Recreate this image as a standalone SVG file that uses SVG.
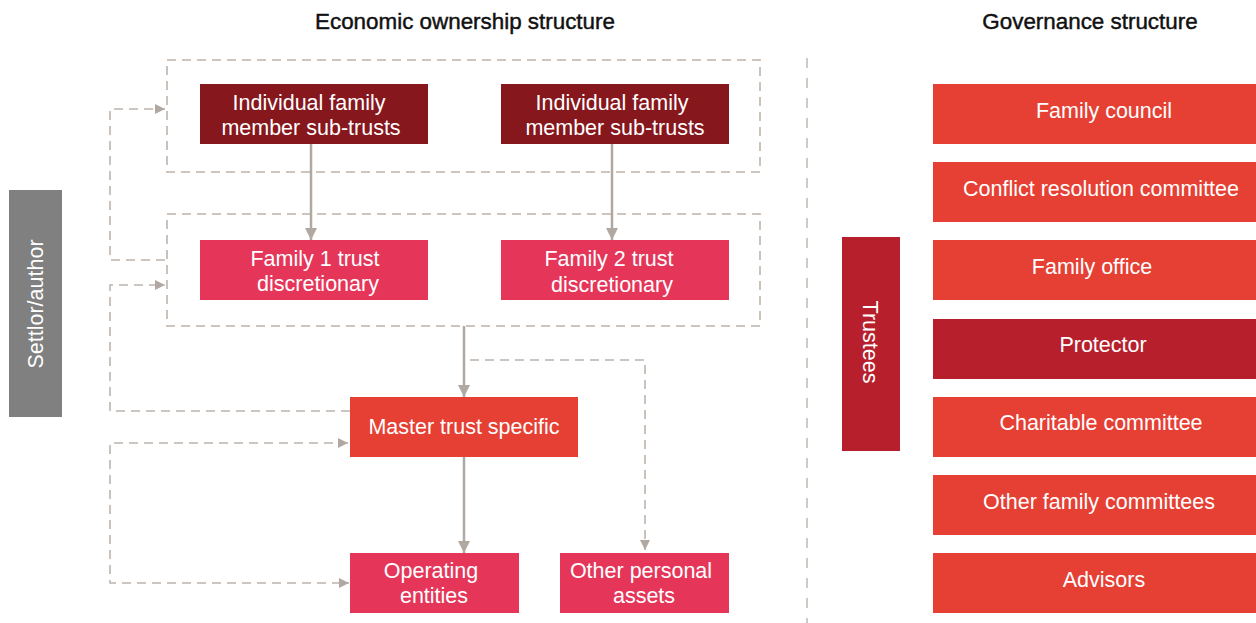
<svg xmlns="http://www.w3.org/2000/svg" width="1256" height="623" viewBox="0 0 1256 623">
<style>
.t{font-family:"Liberation Sans",Arial,sans-serif;font-size:21.5px;fill:#fff;text-anchor:middle}
.h{font-family:"Liberation Sans",Arial,sans-serif;font-size:22.4px;fill:#111;text-anchor:middle;stroke:#111;stroke-width:0.45}
.maroon{fill:#86171D}
.pink{fill:#E5365A}
.orange{fill:#E63F34}
.crimson{fill:#B81F2D}
.grey{fill:#808080}
.dbox{fill:none;stroke:#BDB4AC;stroke-width:1.6;stroke-dasharray:9 6}
.dash{fill:none;stroke:#BDB4AC;stroke-width:1.6;stroke-dasharray:9 6}
.solid{fill:none;stroke:#B1A9A1;stroke-width:2.5}
</style>
<defs>
<marker id="ah" viewBox="0 0 12 12" refX="12" refY="6" markerWidth="12" markerHeight="12" markerUnits="userSpaceOnUse" orient="auto"><path d="M0,0 L12,6 L0,12 z" fill="#B1A9A1"/></marker>
<marker id="ad" viewBox="0 0 10 10" refX="10" refY="5" markerWidth="10" markerHeight="10" markerUnits="userSpaceOnUse" orient="auto-start-reverse"><path d="M0,0 L10,5 L0,10 z" fill="#B1A9A1"/></marker>
</defs>

<rect width="1256" height="623" fill="#fff"/>

<text class="h" x="465" y="29">Economic ownership structure</text>
<text class="h" x="1090" y="29">Governance structure</text>

<g id="groups">
<rect class="dbox" x="167" y="60" width="593" height="112"/>
<rect class="dbox" x="167" y="214" width="593" height="112"/>
<line x1="807" y1="58" x2="807" y2="623" stroke="#BDB4AC" stroke-width="1.4" stroke-dasharray="10 10"/>
</g>

<g id="connectors">
<line class="solid" x1="311" y1="144" x2="311" y2="240" marker-end="url(#ah)"/>
<line class="solid" x1="612" y1="144" x2="612" y2="240" marker-end="url(#ah)"/>
<line class="solid" x1="464" y1="326" x2="464" y2="397" marker-end="url(#ah)"/>
<line class="solid" x1="464" y1="457" x2="464" y2="553" marker-end="url(#ah)"/>
<path class="dash" d="M165,260 H110 V109 H165" marker-end="url(#ad)"/>
<path class="dash" d="M350,411 H110 V285 H165" marker-end="url(#ad)"/>
<path class="dash" d="M348,443 H110 V583 H349" marker-start="url(#ad)" marker-end="url(#ad)"/>
<path class="dash" d="M470,360 H645 V550" marker-end="url(#ad)"/>
</g>

<g id="settlor">
<rect class="grey" x="9" y="190" width="53" height="227"/>
<text class="t" transform="translate(43,304) rotate(-90)">Settlor/author</text>
</g>

<g id="sub1">
<rect class="maroon" x="200" y="84" width="228" height="60"/>
<text class="t" x="309" y="110">Individual family</text>
<text class="t" x="311" y="135">member sub-trusts</text>
</g>
<g id="sub2">
<rect class="maroon" x="501" y="84" width="228" height="60"/>
<text class="t" x="612" y="110">Individual family</text>
<text class="t" x="615" y="135">member sub-trusts</text>
</g>
<g id="fam1">
<rect class="pink" x="200" y="240" width="228" height="60"/>
<text class="t" x="315" y="266">Family 1 trust</text>
<text class="t" x="318" y="291">discretionary</text>
</g>
<g id="fam2">
<rect class="pink" x="501" y="240" width="228" height="60"/>
<text class="t" x="609" y="266">Family 2 trust</text>
<text class="t" x="612" y="292">discretionary</text>
</g>
<g id="master">
<rect class="orange" x="350" y="397" width="228" height="60"/>
<text class="t" x="464" y="434">Master trust specific</text>
</g>
<g id="operating">
<rect class="pink" x="350" y="553" width="169" height="60"/>
<text class="t" x="431" y="578">Operating</text>
<text class="t" x="434" y="603">entities</text>
</g>
<g id="personal">
<rect class="pink" x="560" y="553" width="169" height="60"/>
<text class="t" x="641" y="578">Other personal</text>
<text class="t" x="644" y="603">assets</text>
</g>

<g id="trustees">
<rect class="crimson" x="842" y="237" width="58" height="214"/>
<text class="t" transform="translate(863,342) rotate(90)">Trustees</text>
</g>

<g id="council"><rect class="orange" x="933" y="84" width="323" height="60"/><text class="t" x="1104" y="118">Family council</text></g>
<g id="conflict"><rect class="orange" x="933" y="162" width="323" height="60"/><text class="t" x="1101" y="196">Conflict resolution committee</text></g>
<g id="office"><rect class="orange" x="933" y="240" width="323" height="60"/><text class="t" x="1092" y="274">Family office</text></g>
<g id="protector"><rect class="crimson" x="933" y="319" width="323" height="60"/><text class="t" x="1103" y="352">Protector</text></g>
<g id="charitable"><rect class="orange" x="933" y="397" width="323" height="60"/><text class="t" x="1101" y="430">Charitable committee</text></g>
<g id="othercomm"><rect class="orange" x="933" y="475" width="323" height="60"/><text class="t" x="1099" y="509">Other family committees</text></g>
<g id="advisors"><rect class="orange" x="933" y="553" width="323" height="60"/><text class="t" x="1104" y="587">Advisors</text></g>
</svg>
